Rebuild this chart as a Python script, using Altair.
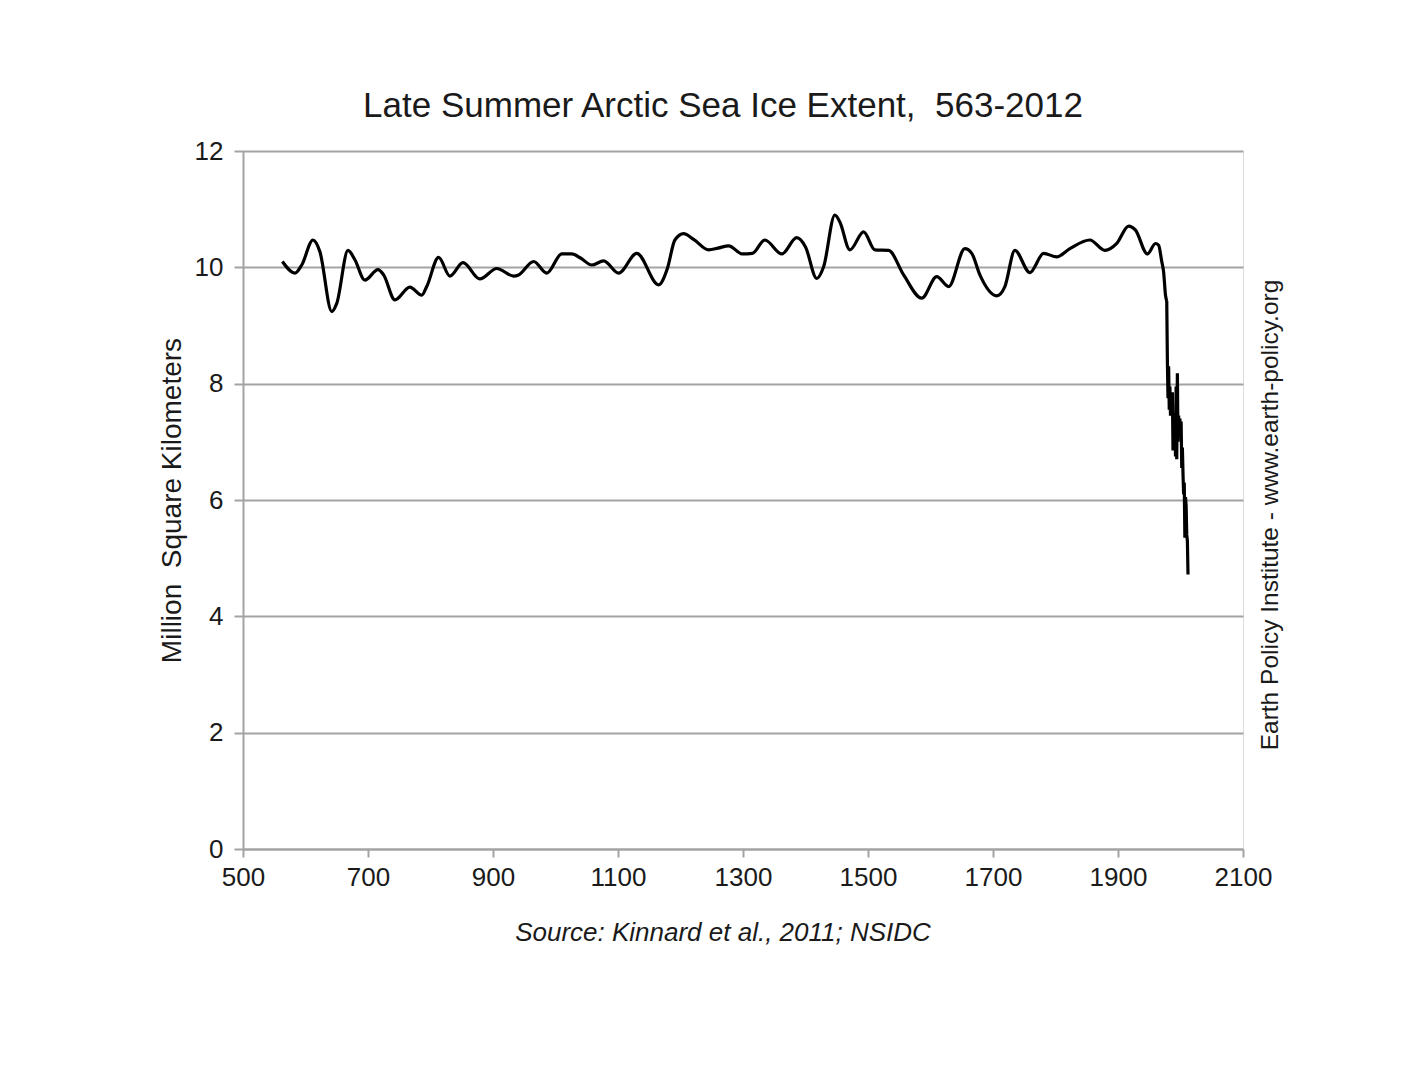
import altair as alt
import pandas as pd

# Reconstructed (proxy) late-summer sea ice extent, million km2
proxy_years = [563, 583, 594, 612, 623, 642, 650, 668, 679, 695, 716, 725, 743, 767, 786, 794,
               813, 831, 852, 879, 906, 933, 941, 965, 986, 1010, 1026, 1040, 1058, 1077, 1101,
               1130, 1165, 1179, 1191, 1205, 1221, 1245, 1260, 1277, 1299, 1315, 1335, 1362,
               1386, 1400, 1418, 1429, 1447, 1455, 1471, 1493, 1511, 1533, 1557, 1586, 1610,
               1629, 1655, 1666, 1679, 1706, 1719, 1735, 1759, 1781, 1802, 1823, 1855, 1879,
               1898, 1917, 1928, 1947, 1960, 1965, 1970, 1973, 1976, 1978]
proxy_values = [10.10, 9.90, 10.04, 10.47, 10.27, 9.24, 9.38, 10.29, 10.13, 9.78, 9.96, 9.87,
                9.44, 9.66, 9.52, 9.67, 10.17, 9.85, 10.08, 9.80, 9.98, 9.85, 9.87, 10.10, 9.90,
                10.23, 10.23, 10.16, 10.04, 10.11, 9.90, 10.24, 9.70, 9.98, 10.47, 10.58, 10.48,
                10.30, 10.33, 10.37, 10.23, 10.24, 10.47, 10.23, 10.51, 10.35, 9.81, 10.01,
                10.90, 10.78, 10.30, 10.61, 10.30, 10.29, 9.87, 9.47, 9.84, 9.67, 10.32, 10.24,
                9.87, 9.51, 9.67, 10.29, 9.91, 10.24, 10.18, 10.32, 10.47, 10.29, 10.41, 10.71,
                10.64, 10.23, 10.41, 10.38, 10.10, 9.92, 9.52, 9.42]

# Observed (NSIDC) annual values, joined to the last proxy point
obs_years = [1978, 1979, 1980, 1981, 1982, 1983, 1984, 1985, 1986, 1987, 1988, 1989, 1990,
             1991, 1992, 1993, 1994, 1995, 1996, 1997, 1998, 1999, 2000, 2001, 2002, 2003,
             2004, 2005, 2006, 2007, 2008, 2009, 2010, 2011, 2012]
obs_values = [9.42, 8.40, 7.75, 8.30, 7.55, 7.95, 7.45, 7.70, 7.60, 7.85, 6.85, 7.35, 7.10,
              7.50, 6.75, 7.95, 6.70, 8.18, 7.00, 7.45, 7.15, 7.40, 7.20, 7.35, 6.55, 6.90,
              6.45, 6.10, 6.30, 5.35, 6.05, 5.90, 5.40, 5.30, 4.72]

x_ticks = [500, 700, 900, 1100, 1300, 1500, 1700, 1900, 2100]
y_ticks = [0, 2, 4, 6, 8, 10, 12]

title_text = "Late Summer Arctic Sea Ice Extent,\u00a0 563-2012"
source_text = "Source: Kinnard et al., 2011; NSIDC"
side_text = "Earth Policy Institute - www.earth-policy.org"

FONT = "Liberation Sans"
GRID = "#a3a3a3"
TXT = "#1a1a1a"

proxy_df = pd.DataFrame({"year": proxy_years, "extent": proxy_values})
obs_df = pd.DataFrame({"year": obs_years, "extent": obs_values})

x_enc = alt.X("year:Q",
              scale=alt.Scale(domain=[500, 2100], nice=False, zero=False),
              axis=alt.Axis(values=x_ticks, format="d", title=None, grid=False,
                            labelFontSize=26, labelFont=FONT, labelColor=TXT,
                            tickColor=GRID, tickWidth=2, tickSize=8,
                            domainColor=GRID, domainWidth=2, labelPadding=7,
                            labelFlush=False))
y_enc = alt.Y("extent:Q",
              scale=alt.Scale(domain=[0, 12], nice=False),
              axis=alt.Axis(values=y_ticks, format="d", title="Million\u00a0 Square Kilometers",
                            titleFontSize=28, titleFont=FONT, titleColor=TXT,
                            titleFontWeight="normal", titlePadding=8,
                            grid=True, gridColor=GRID, gridWidth=2,
                            labelFontSize=26, labelFont=FONT, labelColor=TXT,
                            tickColor=GRID, tickWidth=2, tickSize=9,
                            domainColor=GRID, domainWidth=2, labelPadding=11))

proxy_line = alt.Chart(proxy_df).mark_line(color="black", strokeWidth=3.2,
                                            interpolate="monotone").encode(x=x_enc, y=y_enc)
obs_line = alt.Chart(obs_df).mark_line(color="black", strokeWidth=3.2,
                                        interpolate="linear").encode(x="year:Q", y="extent:Q")

txt_df = pd.DataFrame({"t": [0]})
title_mark = alt.Chart(txt_df).mark_text(text=title_text, font=FONT, fontSize=35,
                                          color=TXT, align="center", baseline="middle").encode(
    x=alt.value(480), y=alt.value(-45))
source_mark = alt.Chart(txt_df).mark_text(text=source_text, font=FONT, fontSize=26,
                                           fontStyle="italic", color=TXT, align="center",
                                           baseline="middle").encode(
    x=alt.value(480), y=alt.value(782))
side_mark = alt.Chart(txt_df).mark_text(text=side_text, font=FONT, fontSize=24.5, angle=270,
                                         color=TXT, align="center", baseline="middle").encode(
    x=alt.value(1028), y=alt.value(364))

chart = alt.layer(proxy_line, obs_line, title_mark, source_mark, side_mark).properties(
    width=1000, height=698,
    autosize=alt.AutoSizeParams(type="none"),
    padding={"left": 235, "top": 143, "right": 170, "bottom": 200},
).configure_view(stroke=GRID, strokeWidth=2).configure(background="white")

chart.save("out.html", embed_options={"renderer": "svg", "actions": False})
